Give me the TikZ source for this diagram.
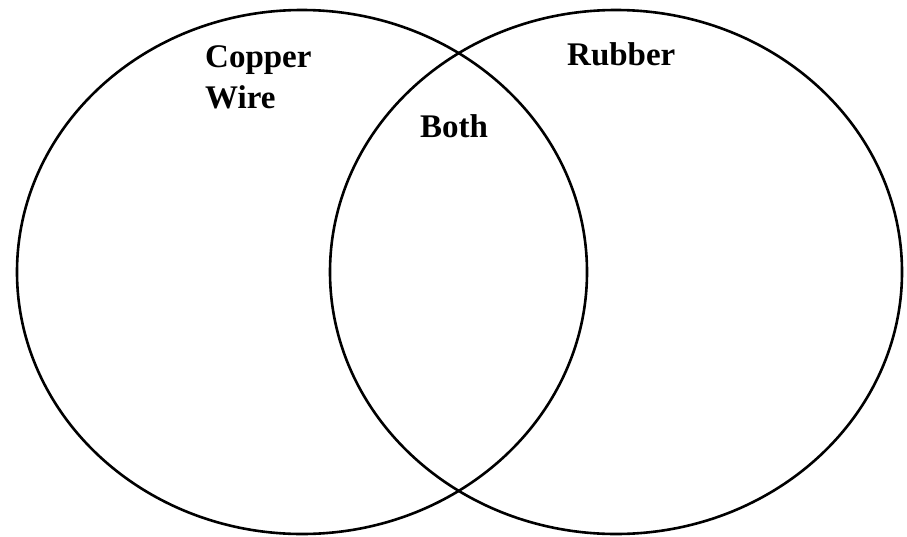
\documentclass[tikz,border=0pt]{standalone}
\usepackage{fontspec}
\setmainfont{Liberation Serif}
\begin{document}
\begin{tikzpicture}[x=1pt,y=-1pt,
  setshape/.style={draw=black, line width=2.6pt},
  lbl/.style={font=\fontsize{33}{41}\selectfont\bfseries, anchor=base west, inner sep=0pt, align=left}]
\useasboundingbox (0,0) rectangle (907,536);
\draw[setshape] (302,272) ellipse [x radius=285, y radius=262];
\draw[setshape] (616,272) ellipse [x radius=286, y radius=262];
\node[lbl] (copper) at (205,108) {Copper\\Wire};
\node[lbl] (rubber) at (567,65) {Rubber};
\node[lbl] (both) at (420,137) {Both};
\end{tikzpicture}
\end{document}
